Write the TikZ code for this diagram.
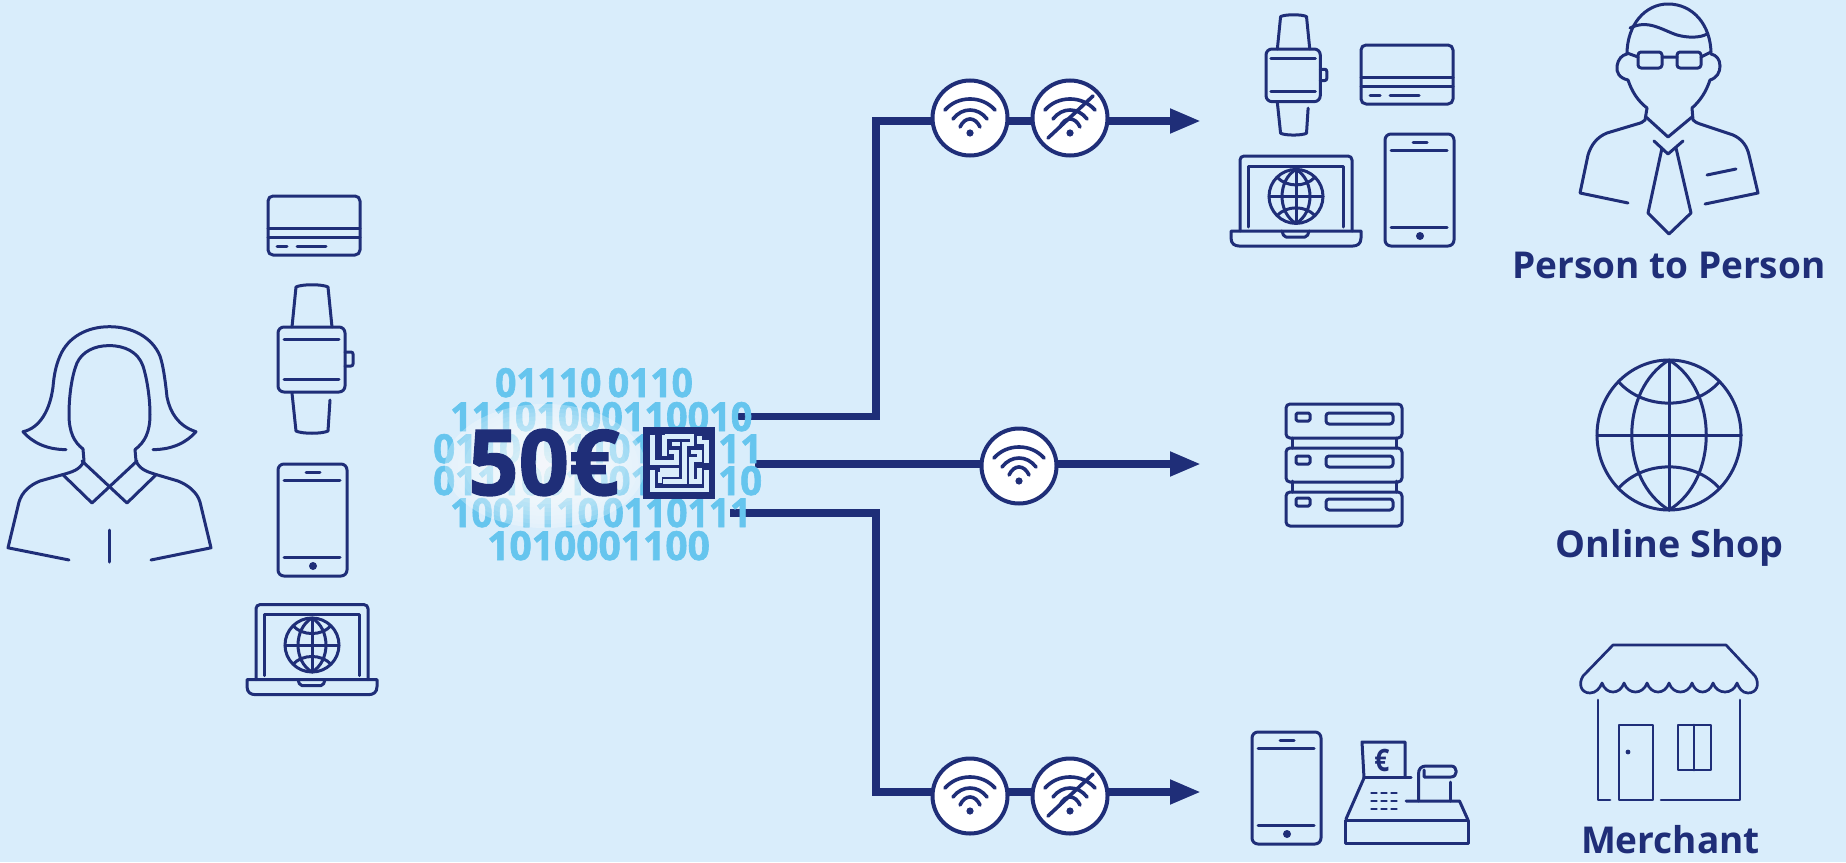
\documentclass[tikz,border=0pt]{standalone}
\usepackage{fontspec}
\setmainfont{Open Sans}
\newfontfamily\heavyfont{Open Sans}[BoldFeatures={FakeBold=1.6}]
\usetikzlibrary{arrows.meta}
\definecolor{bgblue}{HTML}{D9EDFB}
\definecolor{navy}{HTML}{1F2E78}
\definecolor{bitblue}{HTML}{66C5EE}
\pgfdeclarelayer{ground}
\pgfdeclarelayer{wire}
\pgfdeclarelayer{code}
\pgfsetlayers{ground,wire,code,main}
\newcommand{\globemark}[4]{%
  \begin{scope}[shift={(#1,#2)},xscale=#3/100,yscale=#4/100]
    \draw[ic] (0,0) circle [radius=100];
    \draw[ic] (-100,0) -- (100,0) (0,-100) -- (0,100);
    \draw[ic] (0,-100) .. controls (-69,-60) and (-69,60) .. (0,100);
    \draw[ic] (0,-100) .. controls (69,-60) and (69,60) .. (0,100);
    \draw[ic] (-70,-71) .. controls (-35,-33) and (35,-33) .. (70,-71);
    \draw[ic] (-70,71) .. controls (-35,33) and (35,33) .. (70,71);
  \end{scope}}
\tikzset{
  ic/.style={draw=navy,line width=3pt,line cap=round,line join=round},
  trunk/.style={draw=navy,line width=7.5pt,line join=miter},
  tip/.style={-{Triangle[length=31pt,width=23pt]}},
  wcirc/.style={circle,draw=navy,fill=white,line width=4pt,minimum size=75pt,inner sep=0pt},
  bits/.style={text=bitblue,inner sep=0pt,anchor=base west,transform shape,
    font=\heavyfont\fontsize{40}{40}\selectfont\bfseries},
  lab/.style={text=navy,inner sep=0pt,anchor=base,
    font=\fontsize{37}{37}\selectfont\bfseries},
  pics/cardicon/.style={code={
    \draw[ic,rounded corners=5pt] (0,0) rectangle (92,59);
    \draw[ic] (0,32) -- (92,32) (0,41) -- (92,41) (9,50) -- (19,50) (29,50) -- (58,50);
  }},
  pics/watchicon/.style={code={
    \draw[ic,rounded corners=6pt] (0,0) rectangle (67,65);
    \draw[ic] (14,0) -- (18,-40) .. controls (24,-43) and (44,-43) .. (50,-40) -- (54,0);
    \draw[ic] (14,66) -- (18,104) .. controls (24,107) and (44,107) .. (50,104) -- (52,73);
    \draw[ic] (6,12) -- (61,12) (6,52) -- (61,52);
    \draw[ic,rounded corners=2pt] (67,25) -- (75,25) -- (75,39) -- (67,39);
  }},
  pics/phoneicon/.style={code={
    \draw[ic,rounded corners=6pt] (0,0) rectangle (69,112);
    \draw[ic] (6,16) -- (62,16) (28,8) -- (42,8) (6,93) -- (62,93);
    \fill[navy] (35,102) circle [radius=4];
  }},
  pics/laptopicon/.style={code={
    \draw[ic,rounded corners=4pt] (9,75) -- (9,0) -- (121,0) -- (121,75);
    \draw[ic] (17,71) -- (17,10) -- (112,10) -- (112,71);
    \draw[ic] (0,75) -- (130,75) -- (130,82) .. controls (130,88) and (126,90) .. (122,90) -- (8,90) .. controls (4,90) and (0,88) .. (0,82) -- cycle;
    \draw[ic,rounded corners=2pt] (51,75) -- (53,81) -- (76,81) -- (78,75);
    \globemark{65}{40.4}{27}{27}
  }},
  pics/wifiicon/.style={code={
    \draw[ic,line width=3.6pt] (-25,-8) .. controls (-12,-22.7) and (12,-22.7) .. (25,-8);
    \draw[ic,line width=3.6pt] (-17,1) .. controls (-8,-11) and (8,-11) .. (17,1);
    \draw[ic,line width=3.6pt] (-10,9) .. controls (-5,-1.7) and (5,-1.7) .. (10,9);
    \fill[navy] (0,15) circle [radius=3.6];
  }},
  pics/slashicon/.style={code={
    \draw[ic,line width=3.6pt] (23,-22) -- (-22,20);
  }},
}
\begin{document}
\begin{tikzpicture}[x=1pt,y=-1pt]
\useasboundingbox (0,0) rectangle (1846,862);
\begin{pgfonlayer}{ground}
\fill[bgblue] (0,0) rectangle (1846,862);
\end{pgfonlayer}
\begin{pgfonlayer}{code}
\node[bits,xscale=.93] (b1) at (495,397) {01110\hspace{7pt}0110};
\node[bits,xscale=.945] (b2) at (450,431) {11101000110010};
\node[bits,xscale=.96] (b3) at (433,463) {011010110101111};
\node[bits,xscale=.96] (b4) at (433,495) {011100100100110};
\node[bits,xscale=.93] (b5) at (450,527) {1001110\hspace{4pt}0110111};
\node[bits,xscale=.975] (b6) at (487,560) {1010001100};
\foreach \k in {1,...,14}{
  \fill[white,opacity=.09] (545,466) ellipse [x radius={100-6.4*(\k-1)},y radius={62-4*(\k-1)}];
}
\fill[white,opacity=.22] (545,466) ellipse [x radius=100,y radius=62];
\end{pgfonlayer}

% Source
\node[text=navy,inner sep=0pt,anchor=base west,xscale=.97,transform shape,font=\heavyfont\fontsize{91}{91}\selectfont\bfseries] (amount) at (468,495) {50€};
\begin{scope}[shift={(636,420)},scale=1/3]
  \fill[navy] (22,22) rectangle (236,236);
  \draw[bgblue,line width=4.4pt,line cap=butt,line join=miter]
    (50,44) -- (50,128) -- (122,128) -- (122,96) -- (100,96)
    (86,44) -- (86,108)
    (86,50) -- (168,50) -- (168,72) -- (145,72) -- (145,185) -- (80,185)
    (108,72) -- (132,72)
    (50,150) -- (50,210) -- (212,210) -- (212,150)
    (72,150) -- (122,150) -- (122,164) -- (72,164) -- (72,188)
    (190,48) -- (190,66) -- (212,66) -- (212,130)
    (166,96) -- (190,96) -- (190,118) -- (166,118) -- (166,185) -- (190,185) -- (190,145);
\end{scope}

% Wifi circles
\node[wcirc] (w1a) at (970,118) {};
\node[wcirc] (w1b) at (1070,118) {};
\node[wcirc] (w2) at (1019,466) {};
\node[wcirc] (w3a) at (970,796) {};
\node[wcirc] (w3b) at (1070,796) {};
\path (w1a) pic {wifiicon} (w1b) pic {wifiicon} (w1b) pic {slashicon}
      (w2) pic {wifiicon}
      (w3a) pic {wifiicon} (w3b) pic {wifiicon} (w3b) pic {slashicon};

% Connectors
\coordinate (s1) at (735,416.5);
\coordinate (s2) at (755,464);
\coordinate (s3) at (730,513);
\coordinate (k1) at (876,121);
\coordinate (k3) at (876,792);
\coordinate (e1) at (1201,121);
\coordinate (e2) at (1201,464);
\coordinate (e3) at (1201,792);
\begin{pgfonlayer}{wire}
\draw[trunk] (s1) -| (k1) -- ([yshift=-3pt]w1a.center) -- ([yshift=-3pt]w1b.center);
\draw[trunk,tip] ([yshift=-3pt]w1b.center) -- (e1);
\draw[trunk] (s2) -- ([yshift=2pt]w2.center);
\draw[trunk,tip] ([yshift=2pt]w2.center) -- (e2);
\draw[trunk] (s3) -| (k3) -- ([yshift=4pt]w3a.center) -- ([yshift=4pt]w3b.center);
\draw[trunk,tip] ([yshift=4pt]w3b.center) -- (e3);
\end{pgfonlayer}

% Woman
\draw[ic] (66,449.6) .. controls (46,449.6) and (32,442) .. (23,431.7) .. controls (40,428) and (50,410) .. (53,387) .. controls (54,375) and (56,365) .. (60,356) .. controls (68,337) and (87,326.7) .. (109.5,326.7) .. controls (132,326.7) and (152,337) .. (160,356) .. controls (163,365) and (165,378) .. (167,397) .. controls (170,412) and (178,426) .. (196,431.7) .. controls (187,442) and (173,449.6) .. (153,449.6);
\draw[ic] (83,449) .. controls (74,442) and (69,432) .. (69,414.5) .. controls (69,395) and (72,375) .. (77,363) .. controls (82,352) and (94,345.6) .. (109,345.6) .. controls (125,345.6) and (138,352) .. (143,366) .. controls (146,375) and (150,395) .. (150,414.5) .. controls (150,432) and (145,442) .. (135,449.6);
\draw[ic] (83,449) -- (84,461) .. controls (80,470) and (72,472) .. (62,474.8) -- (40,481) .. controls (30,485) and (22,492) .. (19,502) -- (8,547.8) -- (69,560);
\draw[ic] (135,449.6) -- (136,461) .. controls (140,470) and (148,472) .. (157,474.8) -- (178,481) .. controls (188,485) and (197,492) .. (200,502) -- (211,547.8) -- (151,560);
\draw[ic] (82,461) -- (127,503) -- (156,474.8);
\draw[ic] (137,461) -- (92,503) -- (63,474.8);
\draw[ic] (109.5,530) -- (109.5,562);

% Left devices
\path (268,196) pic {cardicon};
\path (278,327) pic {watchicon};
\path (278,464) pic {phoneicon};
\path (247,604.6) pic {laptopicon};

% Top right devices
\path (1266,49) pic[scale=.81] {watchicon};
\path (1361,45) pic {cardicon};
\path (1385,134) pic {phoneicon};
\path (1231,156) pic {laptopicon};

% Server
\foreach \yy/\ya/\yb in {404/413/413, 448/456/456, 492/498/499}{
  \draw[ic,rounded corners=4pt] (1286,\yy) rectangle (1402,\yy+34);
  \draw[ic,rounded corners=1.5pt] (1296,\ya) rectangle (1310,\ya+8);
  \draw[ic,rounded corners=3pt] (1326,\yb) rectangle (1393,\yb+11);
}
\draw[ic] (1292,438) -- (1292,448) (1396,438) -- (1396,448) (1292,481) -- (1292,492) (1396,481) -- (1396,492);

% Bottom devices
\path (1252,732) pic {phoneicon};
\draw[ic] (1364,778) -- (1362,742) -- (1405,742) -- (1405,777);
\draw[ic] (1364,777.5) -- (1411,777.5);
\draw[ic] (1364,778) -- (1346,819);
\draw[ic] (1406,801) -- (1459.5,801) -- (1468,820);
\draw[ic] (1345,820) rectangle (1468,843);
\draw[ic] (1418.5,801) -- (1418.5,774) .. controls (1418.5,769) and (1421,766) .. (1426,766) -- (1451,766) .. controls (1458,766) and (1458,777) .. (1451,777) -- (1424,777) -- (1424,770);
\draw[ic] (1450,782) -- (1450,801);
\foreach \dx in {1374,1384,1394}{\foreach \dy in {793,801,809}{
  \draw[ic,line width=2.8pt] (\dx-2.5,\dy) -- (\dx+2.5,\dy);
}}
\node[text=navy,inner sep=0pt,anchor=base,xscale=.85,transform shape,font=\fontsize{31}{31}\selectfont\bfseries] (euro) at (1382,771) {€};

% Man
\draw[ic] (1628,80) .. controls (1619,78) and (1616,72) .. (1617,66) .. controls (1618,59) and (1622,55) .. (1627,54) .. controls (1627,25) and (1645,4) .. (1668,4) .. controls (1693,4) and (1711,25) .. (1711,54) .. controls (1716,55) and (1720,59) .. (1720,66) .. controls (1720,72) and (1717,78) .. (1710,80) .. controls (1706,92) and (1700,101) .. (1692,108) -- (1693,120) .. controls (1695,122) and (1697,123) .. (1700,124) -- (1733,135) .. controls (1742,139) and (1747,146) .. (1749,155) -- (1758,193) -- (1705,204);
\draw[ic] (1628,80) .. controls (1632,92) and (1638,101) .. (1647,108) -- (1645,120) .. controls (1643,122) and (1641,123) .. (1637,124) -- (1607,133) .. controls (1597,137) and (1591,145) .. (1588,155) -- (1580,193) -- (1628,203);
\draw[ic] (1630,28) .. controls (1648,19) and (1662,30) .. (1677,35) .. controls (1688,38) and (1700,38) .. (1707,34);
\draw[ic,rounded corners=3pt] (1638,52) rectangle (1662,68);
\draw[ic,rounded corners=3pt] (1677,52) rectangle (1701,68);
\draw[ic] (1662,57) -- (1677,57) (1627,53) -- (1638,57) (1701,57) -- (1711,52);
\draw[ic] (1646,117) -- (1668,137) -- (1692,117);
\draw[ic] (1654,141) -- (1668,154) -- (1683,141);
\draw[ic] (1662,148) -- (1648,213) -- (1669,234) -- (1691,213) -- (1676,148);
\draw[ic] (1707,175) -- (1736,169);
\node[lab] (p2p) at (1669,278) {Person to Person};

% Globe
\globemark{1669}{435}{72}{75}
\node[lab,xscale=1.02,transform shape] (shop) at (1669.5,557) {Online Shop};

% Store
\draw[ic,line width=2.7pt] (1613,645) -- (1726,645) -- (1755,676) .. controls (1760,684) and (1757,693) .. (1748,693) .. controls (1742,693) and (1739,688) .. (1737,683)
  .. controls (1733,695) and (1717,695) .. (1713,683) .. controls (1709,695) and (1696,695) .. (1692,683)
  .. controls (1688,695) and (1673,695) .. (1669,683) .. controls (1665,695) and (1651,695) .. (1647,683)
  .. controls (1643,695) and (1628,695) .. (1624,683) .. controls (1620,695) and (1606,695) .. (1602,683)
  .. controls (1600,688) and (1596,693) .. (1590,693) .. controls (1581,693) and (1578,684) .. (1583,676) -- cycle;
\draw[ic,line width=2.7pt] (1598,700) -- (1598,800) -- (1610,800);
\draw[ic,line width=2.7pt] (1619,800) -- (1619,725) -- (1653,725) -- (1653,800) -- cycle;
\fill[navy] (1628,752) circle [radius=2.4];
\draw[ic,line width=2.7pt] (1678,725) rectangle (1711,770);
\draw[ic,line width=2.7pt] (1694,725) -- (1694,770);
\draw[ic,line width=2.7pt] (1661,800) -- (1740,800) -- (1740,700);
\node[lab] (merch) at (1670.5,853) {Merchant};
\end{tikzpicture}
\end{document}
